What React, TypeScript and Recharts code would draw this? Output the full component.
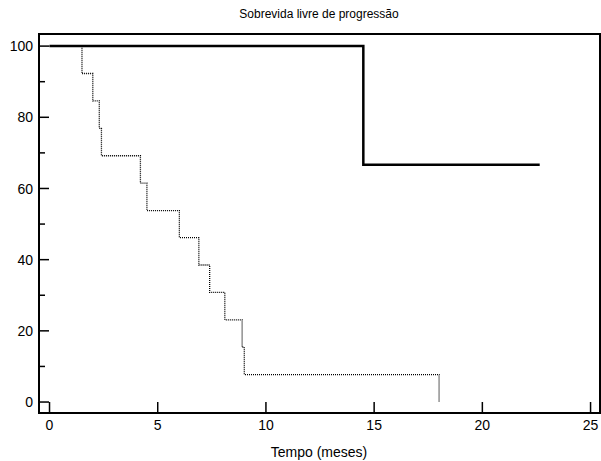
import { Line, LineChart, XAxis, YAxis } from "recharts";

// Kaplan-Meier estimates (months, % progression free)
const groupAMonths = [0, 14.5, 22.65];
const groupASurvival = [100, 66.7, 66.7];

const groupBMonths = [0, 1.5, 2.0, 2.3, 2.4, 4.2, 4.5, 6.0, 6.9, 7.4, 8.1, 8.9, 9.0, 18.0];
const groupBSurvival = [100, 92.3, 84.6, 76.9, 69.2, 61.5, 53.8, 46.2, 38.5, 30.8, 23.1, 15.4, 7.7, 0];

const xTicks = [0, 5, 10, 15, 20, 25];
const yTicks = [0, 10, 20, 30, 40, 50, 60, 70, 80, 90, 100];

const title = "Sobrevida livre de progressão";
const xLabel = "Tempo (meses)";

const groupA = groupAMonths.map((t, i) => ({ t, s: groupASurvival[i] }));
const groupB = groupBMonths.map((t, i) => ({ t, s: groupBSurvival[i] }));

const xDomain = [-0.486, 25.39];
const yDomain = [-2.8, 103.4];
const font = "'Liberation Sans', Arial, sans-serif";

function YTick({ x, y, payload }: any) {
  const major = payload.value % 20 === 0;
  return (
    <g>
      <line x1={x} x2={x + (major ? 10 : 6)} y1={y} y2={y} stroke="#000" strokeWidth={1.5} />
      {major && (
        <text x={x - 6} y={y} dy="0.36em" textAnchor="end" fontSize={14} fontFamily={font} fill="#000">
          {payload.value}
        </text>
      )}
    </g>
  );
}

function XTick({ x, y, payload }: any) {
  return (
    <g>
      <line x1={x} x2={x} y1={y} y2={y - 10} stroke="#000" strokeWidth={1.5} />
      <text x={x} y={y + 18} textAnchor="middle" fontSize={14} fontFamily={font} fill="#000">
        {payload.value}
      </text>
    </g>
  );
}

export default function App() {
  return (
    <div style={{ position: "absolute", left: 0, top: 0, width: 601, height: 461, background: "#fff" }}>
      <div
        style={{
          position: "absolute",
          left: 39,
          width: 560,
          top: 7,
          textAlign: "center",
          fontFamily: font,
          fontSize: 12,
          lineHeight: "14px",
        }}
      >
        {title}
      </div>
      <div style={{ position: "absolute", left: 0, top: 0 }}>
        <LineChart width={601} height={461} margin={{ top: 34, right: 2, left: 0, bottom: 0 }}>
          <XAxis
            dataKey="t"
            type="number"
            domain={xDomain}
            allowDataOverflow
            ticks={xTicks}
            interval={0}
            height={49}
            tickSize={0}
            tickMargin={0}
            tickLine={false}
            axisLine={false}
            tick={<XTick />}
          />
          <YAxis
            type="number"
            domain={yDomain}
            allowDataOverflow
            ticks={yTicks}
            interval={0}
            width={39}
            tickSize={0}
            tickMargin={0}
            tickLine={false}
            axisLine={false}
            tick={<YTick />}
          />
          <Line
            data={groupB}
            dataKey="s"
            type="stepAfter"
            stroke="#000"
            strokeWidth={1.3}
            strokeDasharray="1 1"
            dot={false}
            isAnimationActive={false}
          />
          <Line
            data={groupA}
            dataKey="s"
            type="stepAfter"
            stroke="#000"
            strokeWidth={2.5}
            dot={false}
            isAnimationActive={false}
          />
        </LineChart>
      </div>
      {/* plot frame */}
      <div
        style={{
          position: "absolute",
          left: 38,
          top: 33,
          width: 559,
          height: 377,
          border: "2px solid #000",
          pointerEvents: "none",
          boxSizing: "content-box",
        }}
      />
      <div
        style={{
          position: "absolute",
          left: 39,
          width: 560,
          top: 444,
          textAlign: "center",
          fontFamily: font,
          fontSize: 14,
          lineHeight: "16px",
        }}
      >
        {xLabel}
      </div>
    </div>
  );
}
